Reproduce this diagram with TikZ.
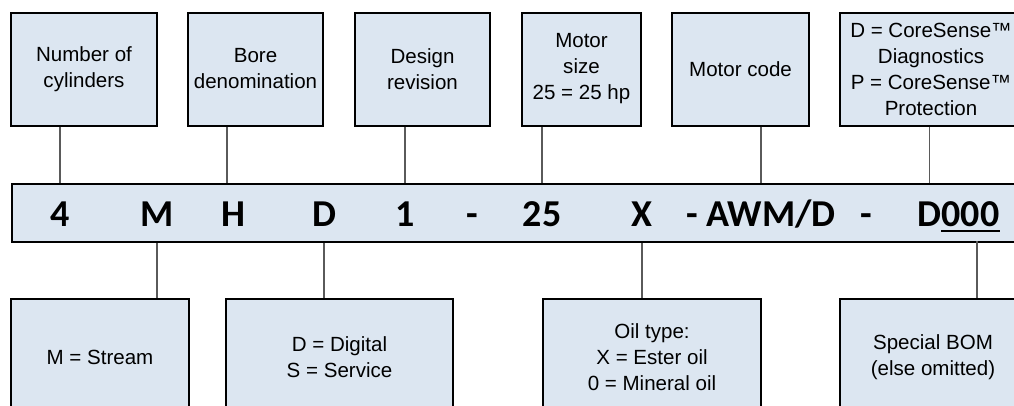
\documentclass[tikz,border=0pt]{standalone}
\usepackage{fontspec}
\setmainfont{Liberation Sans}
\newfontfamily\codefont{Carlito}
\definecolor{boxfill}{HTML}{DCE6F1}
\definecolor{conn}{HTML}{5A5A5A}
\begin{document}
\begin{tikzpicture}[x=0.75pt,y=-0.75pt,
  infobox/.style={draw=black, line width=1.5pt, fill=boxfill, inner sep=0pt, align=center,
     font=\fontsize{15.4}{19.5}\selectfont},
  codechar/.style={anchor=base, inner sep=0pt, font=\codefont\bfseries\fontsize{28.5}{30}\selectfont},
  conline/.style={draw=conn, line width=0.9pt}]
\useasboundingbox (0,0) rectangle (1014,405);
\clip (0,0) rectangle (1014,405);
% top boxes
\node[infobox, minimum width={146*0.75pt}, minimum height={113*0.75pt}] (t1) at (84,69) {Number of\\cylinders};
\node[infobox, minimum width={135*0.75pt}, minimum height={113*0.75pt}] (t2) at (255.5,69) {Bore\\denomination};
\node[infobox, minimum width={135*0.75pt}, minimum height={113*0.75pt}] (t3) at (422.5,69) {Design\\revision};
\node[infobox, minimum width={119*0.75pt}, minimum height={113*0.75pt}] (t4) at (581.5,69) {Motor\\size\\25 = 25 hp};
\node[infobox, minimum width={137*0.75pt}, minimum height={113*0.75pt}] (t5) at (740.5,69) {Motor code};
\node[infobox, minimum width={182*0.75pt}, minimum height={113*0.75pt}] (t6) at (931,69) {D = CoreSense™\\Diagnostics\\P = CoreSense™\\Protection};
% code bar
\node[draw=black, line width=1.5pt, fill=boxfill, inner sep=0pt, anchor=north west,
  minimum width={1030*0.75pt}, minimum height={58*0.75pt}] (bar) at (11,183) {};
\node[codechar] (c4) at (60,226) {4};
\node[codechar] (cM) at (157,226) {M};
\node[codechar] (cH) at (233,226) {H};
\node[codechar] (cD) at (324,226) {D};
\node[codechar] (c1) at (405,226) {1};
\node[codechar] (cd1) at (472,226) {-};
\node[codechar] (c25) at (542,226) {25};
\node[codechar] (cX) at (642,226) {X};
\node[codechar] (cAWM) at (761,226) {- AWM/D};
\node[codechar] (cd2) at (866,226) {-};
\node[codechar] (cDs) at (929.5,226) {D};
\node[codechar] (c000) at (970.5,226) {000};
\draw[line width=2pt] ([yshift={-5*0.75pt}]c000.base west) -- ([yshift={-5*0.75pt}]c000.base east);
\coordinate (k000) at (977,241);
% bottom boxes
\node[infobox, minimum width={178*0.75pt}, minimum height={116*0.75pt}] (b1) at (100,357) {M = Stream};
\node[infobox, minimum width={227*0.75pt}, minimum height={116*0.75pt}] (b2) at (339.5,357) {D = Digital\\S = Service};
\node[infobox, minimum width={218*0.75pt}, minimum height={116*0.75pt}] (b3) at (652,357) {Oil type:\\X = Ester oil\\0 = Mineral oil};
\node[infobox, minimum width={186*0.75pt}, minimum height={116*0.75pt}] (b4) at (933,357) {Special BOM\\(else omitted)};
% connectors top
\draw[conline] (c4 |- t1.south) -- (c4 |- bar.north);
\draw[conline] (t2.south -| 227,0) -- (bar.north -| 227,0);
\draw[conline] (c1 |- t3.south) -- (c1 |- bar.north);
\draw[conline] (c25 |- t4.south) -- (c25 |- bar.north);
\draw[conline] (cAWM |- t5.south) -- (cAWM |- bar.north);
\draw[conline] (cDs |- t6.south) -- (cDs |- bar.north);
% connectors bottom
\draw[conline] (cM |- bar.south) -- (cM |- b1.north);
\draw[conline] (cD |- bar.south) -- (cD |- b2.north);
\draw[conline] (cX |- bar.south) -- (cX |- b3.north);
\draw[conline] (k000) -- (k000 |- b4.north);
\end{tikzpicture}
\end{document}
